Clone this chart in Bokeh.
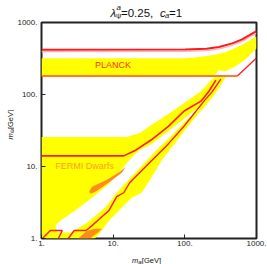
import math
from bokeh.plotting import figure
from bokeh.layouts import column, row
from bokeh.models import FixedTicker, CustomJSTickFormatter
from bokeh.embed import file_html
from bokeh.resources import INLINE
from bokeh.core.properties import value

# ---- data (GeV) ----
x_ticks = [1, 10, 100, 1000]
y_ticks = [1, 10, 100, 1000]

planck_top_red_x = [1, 100, 200, 300, 460, 630, 1000]
planck_top_red_y = [420, 422, 433, 456, 513, 582, 760]

planck_band_x = [1, 100, 170, 270, 370, 600, 1000, 1000, 705, 513, 373, 298, 255, 1]
planck_band_y = [318, 320, 335, 358, 385, 481, 641, 437, 308, 247, 210, 217, 180, 180]

planck_low_orange_x = [1, 540]
planck_low_orange_y = [181, 181]
planck_low_red_x = [540, 1000]
planck_low_red_y = [181, 321]

fermi_band_x = [1, 1, 15.45, 23.4, 34.2, 58.9, 97.9, 168, 231, 263, 373, 280, 210, 153,
                97.9, 64.7, 47.1, 34.2, 24.9, 18.1, 13.2, 8.71, 6.97, 5.58]
fermi_band_y = [1, 25.7, 25.7, 29.2, 37.7, 53.5, 75.9, 111, 158, 174, 174, 111, 75.9, 53.5,
                31.1, 18.1, 11.98, 6.97, 4.32, 3.69, 2.68, 1.77, 1.29, 1]

fermi_hole_x = [1.56, 1.83, 2.95, 5.07, 8.71, 11.98, 16.5, 22.6, 34.2, 44.2, 64.7, 104.3, 158,
                158, 104.3, 64.7, 40.2, 24.9, 15.45, 11.2, 8.18, 5.95, 4.32, 3.15, 2.52, 1.66]
fermi_hole_y = [1.51, 1.77, 2.44, 3.69, 5.76, 8.18, 11.98, 16.5, 20.6, 24.9, 33.2, 48.6, 66.8,
                60.7, 44.2, 26.5, 17.0, 10.2, 6.14, 4.32, 2.86, 2.15, 1.66, 1.37, 1.21, 1.21]

orange_a_x = [4.61, 5.07, 8.18, 12.4, 14.97, 13.2, 9.0, 5.95, 4.91]
orange_a_y = [4.47, 5.24, 6.54, 8.44, 9.9, 8.18, 6.14, 4.61, 4.19]
orange_b_x = [3.25, 4.19, 5.40, 6.97, 6.14, 4.76]
orange_b_y = [1, 1.25, 1.37, 1.37, 1.21, 1]

fermi_upper_red_x = [1, 14.05, 19.9, 34.2, 58.9, 97.9, 168, 217, 271]
fermi_upper_red_y = [14.05, 14.05, 16.5, 23.5, 36.0, 58.9, 80.9, 111, 158]

fermi_lower_red_x = [2.36, 2.86, 4.19, 5.07, 6.54, 8.71, 11.2, 14.05, 17.0, 22.6, 31.1, 58.9,
                     97.9, 185, 238.8, 318]
fermi_lower_red_y = [1, 1.29, 1.29, 1.51, 1.89, 2.44, 3.81, 4.32, 5.95, 7.92, 10.9, 20.6,
                     36.5, 80.9, 107.8, 163]

corner_red_x = [1.032, 1.33, 1.95, 1.72]
corner_red_y = [1, 1.29, 1.29, 1]

region_labels = ["PLANCK", "FERMI Dwarfs"]
region_label_x = [5.58, 1.56]
region_label_y = [254, 10.2]

# ---- styles ----
YELLOW = "#FFFF00"
ORANGE_FILL = "#FF8C1A"
RED = "#FF1A1A"
ORANGE_LINE = "#FF7A30"
FONT = "Liberation Sans"
INK = "#111111"

TITLE_H = 19
XLAB_H = 14
YLAB_W = 14
MAIN_W = 267 - YLAB_W
MAIN_H = 264 - TITLE_H - XLAB_H

p = figure(width=MAIN_W, height=MAIN_H, x_axis_type="log", y_axis_type="log",
           x_range=(1, 1000), y_range=(1, 1000), output_backend="svg",
           toolbar_location=None, min_border_left=25, min_border_right=11,
           min_border_top=3, min_border_bottom=12)
p.xgrid.visible = False
p.ygrid.visible = False
p.background_fill_color = "white"
p.border_fill_color = "white"
p.outline_line_color = "#222222"
p.outline_line_width = 2

for ax in (p.xaxis[0], p.yaxis[0]):
    ax.axis_line_color = None
    ax.major_tick_in = 4
    ax.major_tick_out = 0
    ax.minor_tick_line_color = None
    ax.major_tick_line_color = "#222222"
    ax.major_label_text_font = FONT
    ax.major_label_text_font_size = "8px"
    ax.major_label_text_color = "#222222"
    ax.formatter = CustomJSTickFormatter(code="return Math.round(tick).toString() + '.';")
p.xaxis[0].ticker = FixedTicker(ticks=x_ticks, minor_ticks=[])
p.yaxis[0].ticker = FixedTicker(ticks=y_ticks, minor_ticks=[])
p.xaxis[0].major_label_standoff = 2
p.yaxis[0].major_label_standoff = 4

# regions (Fermi region with a hole)
p.multi_polygons(xs=[[[fermi_band_x, fermi_hole_x]]], ys=[[[fermi_band_y, fermi_hole_y]]],
                 fill_color=YELLOW, line_color=None)
p.patch(orange_a_x, orange_a_y, fill_color=ORANGE_FILL, line_color=None)
p.patch(orange_b_x, orange_b_y, fill_color=ORANGE_FILL, line_color=None)
p.patch(planck_band_x, planck_band_y, fill_color=YELLOW, line_color=None)

# boundary lines
p.line(planck_top_red_x, [v * 0.94 for v in planck_top_red_y], line_color="#FFB0B0", line_width=1.2)
p.line(planck_top_red_x, planck_top_red_y, line_color=RED, line_width=2)
p.line(planck_low_orange_x, planck_low_orange_y, line_color=ORANGE_LINE, line_width=2)
p.line(planck_low_red_x, planck_low_red_y, line_color=RED, line_width=1.3)
p.line(fermi_upper_red_x, fermi_upper_red_y, line_color=RED, line_width=1.6)
p.line(fermi_lower_red_x, fermi_lower_red_y, line_color=RED, line_width=1.4)
p.line(corner_red_x, corner_red_y, line_color=RED, line_width=1.4)

p.text(x=[region_label_x[0]], y=[region_label_y[0]], text=[region_labels[0]],
       text_font=value(FONT), text_font_size="9px", text_color="#FF2A2A",
       text_baseline="middle", text_align="left")
p.text(x=[region_label_x[1]], y=[region_label_y[1]], text=[region_labels[1]],
       text_font=value(FONT), text_font_size="9px", text_color="#FF9A30",
       text_baseline="middle", text_align="left")


def text_fig(w, h):
    f = figure(width=w, height=h, x_range=(0, w), y_range=(0, h), x_axis_type=None,
               y_axis_type=None, output_backend="svg", toolbar_location=None, min_border=0)
    f.outline_line_color = None
    f.background_fill_color = "white"
    f.border_fill_color = "white"
    f.xgrid.visible = False
    f.ygrid.visible = False
    return f


def put(f, txt, x, y, size, italic=False, angle=0.0):
    f.text(x=[x], y=[y], text=[txt], text_font=value(FONT), text_font_size=size,
           text_font_style="italic" if italic else "normal", text_color=INK,
           text_baseline="alphabetic", text_align="left", angle=angle)


# title  λ_ψ^a = 0.25, c_a = 1   (fig y measured upward from its bottom)
tf = text_fig(267, TITLE_H)
put(tf, "λ", 110, TITLE_H - 12, "11.5px", True)
put(tf, "a", 116, TITLE_H - 7.3, "8px", True)
put(tf, "ψ", 115.5, TITLE_H - 14.5, "7.5px")
put(tf, "=0.25,", 120.5, TITLE_H - 12, "11.5px")
put(tf, "c", 159.5, TITLE_H - 12, "11.5px", True)
put(tf, "a", 164.5, TITLE_H - 14.5, "7.5px", True)
put(tf, "=1", 168.5, TITLE_H - 12, "11.5px")

# y axis label  m_ψ [GeV]  (rotated, reads bottom to top)
yf = text_fig(YLAB_W, MAIN_H)
half_pi = math.pi / 2
put(yf, "m", 9.5, 106, "7.5px", True, half_pi)
put(yf, "ψ", 11, 112.5, "6px", False, half_pi)
put(yf, "[GeV]", 9.5, 117, "7.5px", False, half_pi)

# x axis label  m_a [GeV]
xf = text_fig(267, XLAB_H)
put(xf, "m", 131.5, 4, "7.5px", True)
put(xf, "a", 137.8, 2.7, "6px", True)
put(xf, "[GeV]", 141.3, 4, "7.5px")

layout = column(tf, row(yf, p), xf)
open("out.html", "w").write(file_html(layout, INLINE))
